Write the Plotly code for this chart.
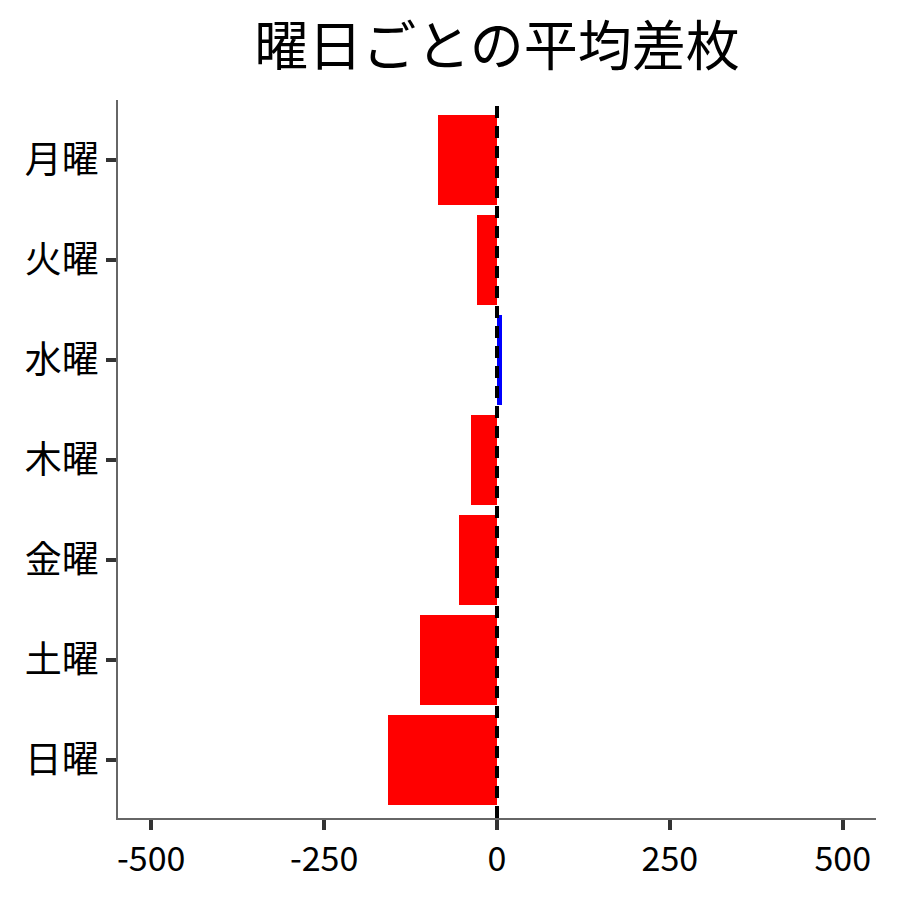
import plotly.graph_objects as go

days = ["月曜", "火曜", "水曜", "木曜", "金曜", "土曜", "日曜"]
avg_diff = [-86, -29, 7, -37, -55, -112, -157]
tick_vals = [-500, -250, 0, 250, 500]
tick_text = ["-500", "-250", "0", "250", "500"]

colors = ["#0000FF" if v > 0 else "#FF0000" for v in avg_diff]

fig = go.Figure(go.Bar(
    x=avg_diff,
    y=days,
    orientation="h",
    marker=dict(color=colors, line=dict(width=0)),
    width=0.9,
))

# 0 の位置に破線
fig.add_shape(type="line", xref="x", yref="paper", x0=0, x1=0, y0=0, y1=1,
              line=dict(color="black", width=4, dash="12px,8px"))

font_name = "Noto Sans CJK JP"
fig.update_layout(
    width=900, height=900,
    title=dict(text="曜日ごとの平均差枚", xref="paper", x=0.5, xanchor="center",
               y=0.957, yanchor="middle",
               font=dict(family=font_name, size=54, color="black")),
    font=dict(family=font_name, size=34, color="black"),
    plot_bgcolor="white", paper_bgcolor="white",
    margin=dict(l=110, r=32, t=92, b=90),
    showlegend=False,
    bargap=0,
)
fig.update_xaxes(range=[-548, 548], tickvals=tick_vals, ticktext=tick_text, automargin=False,
                 showgrid=False, zeroline=False, showline=True, linecolor="#666666", linewidth=1.5,
                 ticks="outside", ticklen=10, tickwidth=3.5, tickcolor="#333333",
                 tickfont=dict(family=font_name, size=34, color="black"))
fig.update_yaxes(range=[6.58, -0.6], showgrid=False, zeroline=False, automargin=False,
                 showline=True, linecolor="#666666", linewidth=1.5,
                 ticks="outside", ticklen=10, tickwidth=3.5, tickcolor="#333333",
                 tickfont=dict(family=font_name, size=37, color="black"))

fig.write_html("out.html")
